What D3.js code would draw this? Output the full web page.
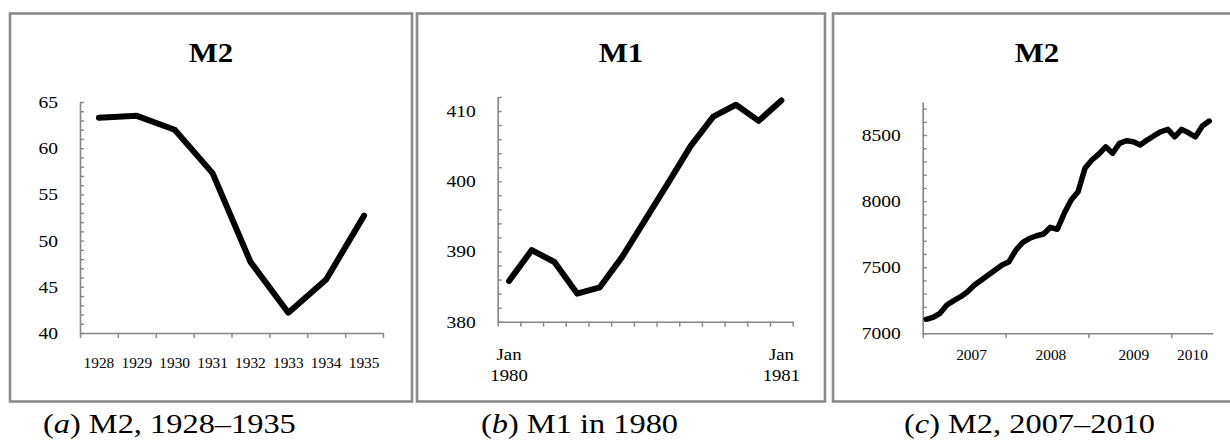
<!DOCTYPE html>
<html>
<head>
<meta charset="utf-8">
<script src="https://cdn.jsdelivr.net/npm/d3@7/dist/d3.min.js"></script>
<style>
  html, body { margin: 0; padding: 0; background: #fff; }
  svg { display: block; }
  text { font-family: "Liberation Serif", "Times New Roman", serif; fill: #000; }
</style>
</head>
<body>
<svg id="chart" width="1230" height="441"></svg>
<script>
// ---------- Data ----------
// Panel (a): annual M2, 1928–1935
const yearsA = ["1928", "1929", "1930", "1931", "1932", "1933", "1934", "1935"];
const m2A = [63.3, 63.5, 62.0, 57.3, 47.7, 42.2, 45.8, 52.7];
const yTicksA = [40, 45, 50, 55, 60, 65];

// Panel (b): monthly M1, Jan 1980 – Jan 1981
const monthsB = ["Jan 1980", "Feb", "Mar", "Apr", "May", "Jun", "Jul", "Aug", "Sep", "Oct", "Nov", "Dec", "Jan 1981"];
const m1B = [385.8, 390.2, 388.5, 384.0, 384.9, 389.3, 394.5, 399.7, 405.0, 409.2, 410.9, 408.6, 411.5];
const yTicksB = [380, 390, 400, 410];
const xLabelsB = [["Jan", "1980"], ["Jan", "1981"]];

// Panel (c): monthly M2, Jan 2007 – Jun 2010
const m2C = [7106, 7121, 7151, 7214, 7247, 7277, 7315, 7365, 7403, 7441, 7479, 7517,
             7542, 7630, 7688, 7719, 7738, 7751, 7802, 7787, 7908, 8008, 8071, 8248,
             8311, 8356, 8411, 8362, 8437, 8457, 8449, 8424, 8462, 8495, 8525, 8543,
             8487, 8543, 8517, 8487, 8568, 8606];
const yTicksC = [7000, 7500, 8000, 8500];
const yearsC = ["2007", "2008", "2009", "2010"];
const yearStartMonthC = [0, 12, 24, 36];
const yearLabelMonthC = [7, 18.5, 30.5, 39];

// Titles and captions
const titles = ["M2", "M1", "M2"];
const captions = [["a", " M2, 1928–1935"], ["b", " M1 in 1980"], ["c", " M2, 2007–2010"]];

// ---------- Drawing ----------
const svg = d3.select("#chart");
const GREY = "#868686";
const LINE_W = 6;
const serif = '"Liberation Serif", "Times New Roman", serif';

const panels = [
  { x0: 10, x1: 412, cx: 211, capX: 43 },
  { x0: 417, x1: 825, cx: 621, capX: 481 },
  { x0: 833, x1: 1242, cx: 1037, capX: 904 }
];

// frames, titles, captions
panels.forEach((p, i) => {
  svg.append("rect")
    .attr("x", p.x0).attr("y", 13.5)
    .attr("width", p.x1 - p.x0).attr("height", 388)
    .attr("fill", "none").attr("stroke", "#8a8a8a").attr("stroke-width", 2.6);
  svg.append("text")
    .attr("transform", `translate(${p.cx},62) scale(1.1,1)`)
    .attr("text-anchor", "middle")
    .attr("font-size", 28).attr("font-weight", "bold")
    .text(titles[i]);
  const cap = svg.append("text")
    .attr("transform", `translate(${p.capX},433) scale(1.2,1)`)
    .attr("font-size", 27);
  cap.append("tspan").text("(");
  cap.append("tspan").attr("font-style", "italic").text(captions[i][0]);
  cap.append("tspan").text(")" + captions[i][1]);
});

function styleAxis(g) {
  g.selectAll(".domain").attr("stroke", GREY).attr("stroke-width", 1.6);
  g.selectAll(".tick line").attr("stroke", GREY).attr("stroke-width", 1.4);
  g.selectAll("text").attr("font-family", serif).attr("fill", "#000");
}

function yAxis(scale, x, step, labels) {
  const [lo, hi] = scale.domain();
  const vals = d3.range(lo, hi + 0.001, step);
  const g = svg.append("g").attr("transform", `translate(${x},0)`)
    .call(d3.axisLeft(scale).tickValues(vals).tickSizeInner(-4).tickSizeOuter(0).tickPadding(22)
      .tickFormat(d => labels.includes(d) ? String(d) : ""));
  styleAxis(g);
  g.selectAll(".tick text").attr("x", null).attr("font-size", 17)
    .attr("transform", "translate(-22,0) scale(1.15,1)");
  return g;
}

function drawLine(data, xf, yf, w) {
  svg.append("path")
    .datum(data)
    .attr("fill", "none").attr("stroke", "#000")
    .attr("stroke-width", w)
    .attr("stroke-linejoin", "round").attr("stroke-linecap", "round")
    .attr("d", d3.line().x(xf).y(yf));
}

// ----- Panel (a) -----
{
  const yS = d3.scaleLinear().domain([40, 65]).range([333, 102]);
  const xB = d3.scaleBand().domain(yearsA).range([80, 383]);
  const xI = d3.scaleLinear().domain([0, yearsA.length]).range([80, 383]);
  const gt = svg.append("g").attr("transform", "translate(0,333)")
    .call(d3.axisBottom(xI).tickValues(d3.range(0, yearsA.length + 1)).tickFormat("").tickSizeInner(5).tickSizeOuter(0));
  styleAxis(gt);
  const gl = svg.append("g").attr("transform", "translate(0,333)")
    .call(d3.axisBottom(xB).tickSize(0));
  gl.select(".domain").remove();
  styleAxis(gl);
  gl.selectAll(".tick text").attr("y", null).attr("dy", null).attr("font-size", 14.5)
    .attr("transform", "translate(0,35) scale(1.06,1)");
  yAxis(yS, 80, 1, yTicksA);
  drawLine(m2A.map((v, i) => [yearsA[i], v]), d => xB(d[0]) + xB.bandwidth() / 2, d => yS(d[1]), LINE_W);
}

// ----- Panel (b) -----
{
  const yS = d3.scaleLinear().domain([380, 412]).range([321.7, 97]);
  const xB = d3.scaleBand().domain(monthsB).range([497.7, 792.7]);
  const xI = d3.scaleLinear().domain([0, monthsB.length]).range([497.7, 792.7]);
  const gt = svg.append("g").attr("transform", "translate(0,321.7)")
    .call(d3.axisBottom(xI).tickValues(d3.range(0, monthsB.length + 1)).tickFormat("").tickSizeInner(5).tickSizeOuter(0));
  styleAxis(gt);
  const labelled = [monthsB[0], monthsB[monthsB.length - 1]];
  const gl = svg.append("g").attr("transform", "translate(0,321.7)")
    .call(d3.axisBottom(xB).tickValues(labelled).tickSize(0).tickFormat(""));
  gl.select(".domain").remove();
  styleAxis(gl);
  gl.selectAll(".tick").each(function(d, i) {
    const t = d3.select(this).select("text").attr("y", null).attr("dy", null)
      .attr("font-size", 17).attr("transform", "scale(1.1,1)");
    t.append("tspan").attr("x", 0).attr("y", 38.3).text(xLabelsB[i][0]);
    t.append("tspan").attr("x", 0).attr("y", 59.8).text(xLabelsB[i][1]);
  });
  yAxis(yS, 497.7, 2, yTicksB);
  drawLine(m1B.map((v, i) => [monthsB[i], v]), d => xB(d[0]) + xB.bandwidth() / 2, d => yS(d[1]), LINE_W);
}

// ----- Panel (c) -----
{
  const yS = d3.scaleLinear().domain([7000, 8750]).range([333.3, 102]);
  const xI = d3.scaleLinear().domain([0, m2C.length]).range([922.7, 1212.7]);
  const gt = svg.append("g").attr("transform", "translate(0,333.3)")
    .call(d3.axisBottom(xI).tickValues(yearStartMonthC).tickFormat("").tickSizeInner(5).tickSizeOuter(0));
  styleAxis(gt);
  const gl = svg.append("g").attr("transform", "translate(0,333.3)")
    .call(d3.axisBottom(xI).tickValues(yearLabelMonthC).tickSize(0)
      .tickFormat((d, i) => yearsC[i]));
  gl.select(".domain").remove();
  styleAxis(gl);
  gl.selectAll(".tick text").attr("y", null).attr("dy", null).attr("font-size", 14.5)
    .attr("transform", "translate(0,27) scale(1.06,1)");
  yAxis(yS, 922.7, 100, yTicksC);
  drawLine(m2C.map((v, i) => [i, v]), d => xI(d[0] + 0.5), d => yS(d[1]), 5.5);
}
</script>
</body>
</html>
